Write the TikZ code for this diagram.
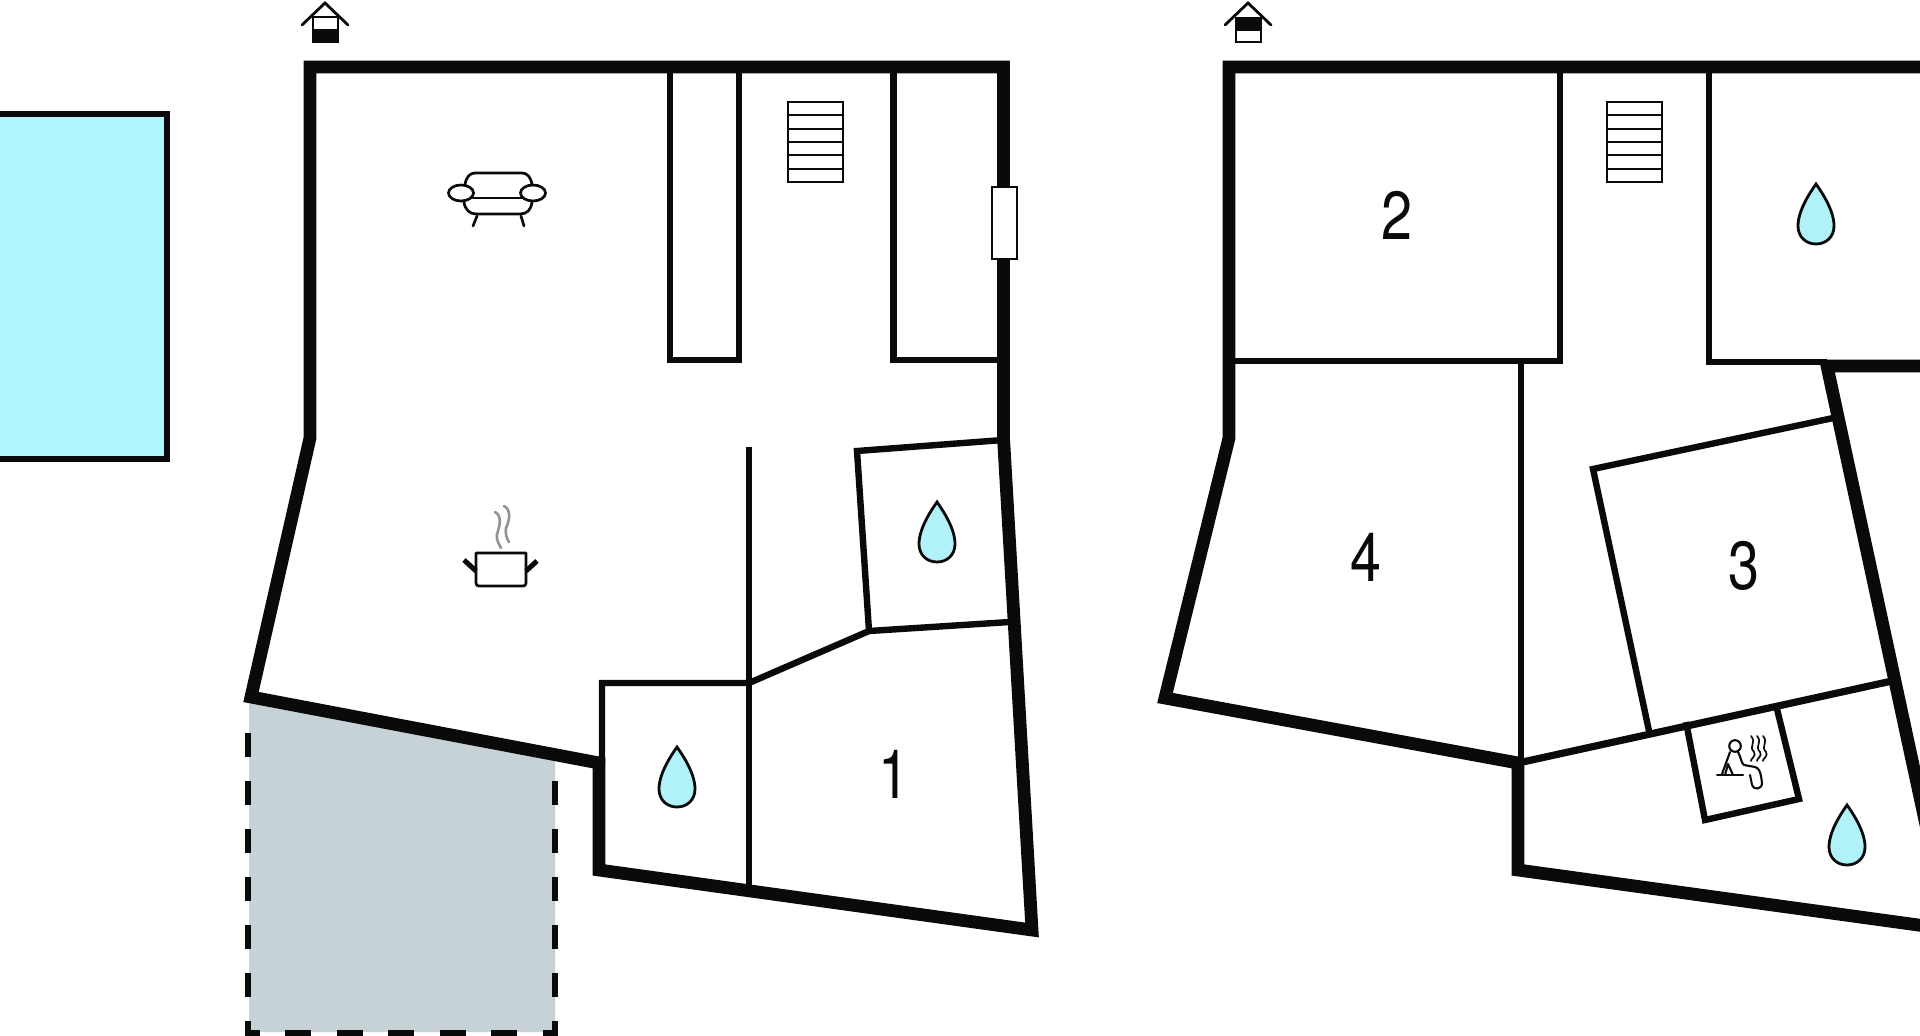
\documentclass[tikz,border=0pt]{standalone}
\usepackage{fontspec}
\setmainfont{TeX Gyre Heros}
\newfontfamily\digitfont[FakeStretch=0.82]{TeX Gyre Heros}
\definecolor{poolc}{HTML}{B0F6FC}
\definecolor{dropc}{HTML}{B0F2F8}
\definecolor{terr}{HTML}{C6D2D5}
\definecolor{wallc}{HTML}{0A0A0A}
\tikzset{
  x=0.5pt,y=-0.5pt,
  wall/.style={draw=wallc,line width=6.4pt,miter limit=20,line join=miter},
  inner/.style={draw=wallc,line width=3.2pt,line join=miter},
  thin icon/.style={draw=wallc,line width=1.35pt,line cap=round,line join=round},
  sauna icon/.style={draw=wallc,line width=1.05pt,line cap=round,line join=round},
  tread/.style={draw=wallc,line width=1.05pt},
  roomno/.style={font=\digitfont\fontsize{34}{34}\selectfont,inner sep=0pt,text=wallc},
  dashline/.style={draw=wallc,line width=3pt},
  drop/.pic={\draw[draw=wallc,fill=dropc,line width=1.4pt,line join=miter]
     (0,0) .. controls (7,10) and (18,27) .. (18,42)
     .. controls (18,53) and (10,60) .. (0,60)
     .. controls (-10,60) and (-18,53) .. (-18,42)
     .. controls (-18,27) and (-7,10) .. (0,0) -- cycle;},
  stairs/.pic={\draw[tread,fill=white] (0,0) rectangle (55,80);
     \foreach \k in {1,...,5}{\draw[tread] (0,{\k*80/6}) -- (55,{\k*80/6});}},
}
\begin{document}
\begin{tikzpicture}
\useasboundingbox (0,0) rectangle (1920,1036);
\clip (0,0) rectangle (1920,1036);
\fill[white] (0,0) rectangle (1920,1036);

% pool
\draw[fill=poolc,draw=wallc,line width=2.7pt] (-10,114) rectangle (167,459);

% terrace
\fill[terr] (249,697) -- (555,756) -- (555,1032) -- (249,1032) -- cycle;
\draw[dashline,dash pattern=on 12pt off 12pt] (248,733) -- (248,1036);
\draw[dashline,dash pattern=on 12pt off 12pt] (555,781) -- (555,1036);
\draw[dashline,dash pattern=on 13pt off 12.8pt] (285,1033) -- (558,1033);
\draw[dashline] (246,1033) -- (260,1033);

% left plan: inner walls
\path[inner] (670,67) -- (670,360) -- (739,360) -- (739,67);
\path[inner] (893.5,67) -- (893.5,360) -- (1004,360);
\path[inner] (749,447) -- (749,885);
\path[inner] (1003,440) -- (857,451) -- (869,631) -- (1010,622);
\path[inner] (869,631) -- (749,683) -- (602,683) -- (602,763);
% left plan: outer wall
\path[wall] (310,67) -- (1003.5,67) -- (1003.5,438) -- (1032,930) -- (599,870) -- (599,763) -- (251,697) -- (310,438) -- cycle;
\draw[draw=wallc,fill=white,line width=1.05pt] (992,187) rectangle (1017,259);
\pic at (788,102) {stairs};
\pic at (937,502) {drop};
\pic at (677,747) {drop};
\node[roomno] (r1) at (894,774) {1};

% sofa
\draw[thin icon] (465,185) .. controls (466,177) and (470,173) .. (475,173) -- (522,173) .. controls (527,173) and (531,177) .. (532,185);
\draw[thin icon] (473,198) -- (522,198);
\draw[thin icon] (464,202) .. controls (465,210) and (470,214) .. (476,214) -- (520,214) .. controls (527,214) and (531,210) .. (532,202);
\draw[thin icon] (477,216) -- (473,226) (521,216) -- (524,226);
\draw[thin icon] (461,193) ellipse (12.5 and 8);
\draw[thin icon] (533,193) ellipse (12.5 and 8);

% pot
\draw[thin icon] (476,553) -- (526,553) -- (526,583) .. controls (526,585) and (525,586) .. (523,586) -- (479,586) .. controls (477,586) and (476,585) .. (476,583) -- cycle;
\draw[draw=wallc,line width=2.5pt] (464,560) -- (476,571) (537,561) -- (526,571);
\draw[draw=gray!85,line width=1.3pt,line cap=round] (495,512) .. controls (503,516) and (499,528) .. (497,534) .. controls (496,540) and (499,544) .. (501,548);
\draw[draw=gray!85,line width=1.3pt,line cap=round] (504,506) .. controls (512,510) and (509,522) .. (506,528) .. controls (505,534) and (507,539) .. (509,542);

% house icons
\fill[white,draw=wallc,line width=1pt] (313,17) rectangle (338,30);
\fill[wallc] (312,30) rectangle (339,43);
\draw[draw=wallc,line width=1.4pt,line cap=round,line join=miter] (302,25) -- (325,3) -- (348,25);
\fill[wallc] (1235,17) rectangle (1262,30);
\draw[draw=wallc,fill=white,line width=1.2pt] (1236,30) rectangle (1261,42);
\draw[draw=wallc,line width=1.4pt,line cap=round,line join=miter] (1225,25) -- (1248,3) -- (1271,25);

% right plan: inner walls
\path[inner] (1229,361) -- (1560,361) -- (1560,67);
\path[inner] (1521,361) -- (1521,763);
\path[inner] (1709,67) -- (1709,362) -- (1827,362);
\path[inner,line width=3.6pt] (1518,763) -- (1892,681);
\path[inner] (1838,417) -- (1593,469) -- (1649,731);
\path[inner] (1686,722) -- (1705,820) -- (1799,799) -- (1776,705);
% right plan: outer walls
\path[wall] (1940,67) -- (1229,67) -- (1229,438) -- (1165,698) -- (1518,763) -- (1518,870) -- (1940,928);
\path[wall] (1940,366) -- (1827,366) -- (1940,890);
\pic at (1607,102) {stairs};
\pic at (1816,184) {drop};
\pic at (1847,805) {drop};
\node[roomno] (r2) at (1397,215) {2};
\node[roomno] (r3) at (1744,566) {3};
\node[roomno] (r4) at (1366,557) {4};

% sauna icon
\draw[sauna icon] (1735,746) circle (5.8);
\draw[sauna icon] (1717,775) -- (1743,775);
\draw[sauna icon] (1730,752) -- (1722,774);
\draw[sauna icon] (1728,764) -- (1725,775) (1728,764) -- (1733,775);
\draw[sauna icon] (1738,752) .. controls (1741,757) and (1741,763) .. (1744,765) -- (1755,767) .. controls (1759,768) and (1760,772) .. (1761,776) -- (1762,783) .. controls (1762,790) and (1753,790) .. (1752,785) -- (1750,775);
\foreach \dx in {0,6,12}{
  \draw[sauna icon,line width=0.85pt] ({1751+\dx},736) .. controls ({1757+\dx},743) and ({1748+\dx},746) .. ({1754+\dx},752) .. controls ({1757+\dx},756) and ({1750+\dx},759) .. ({1751+\dx},761);
}
\end{tikzpicture}
\end{document}
